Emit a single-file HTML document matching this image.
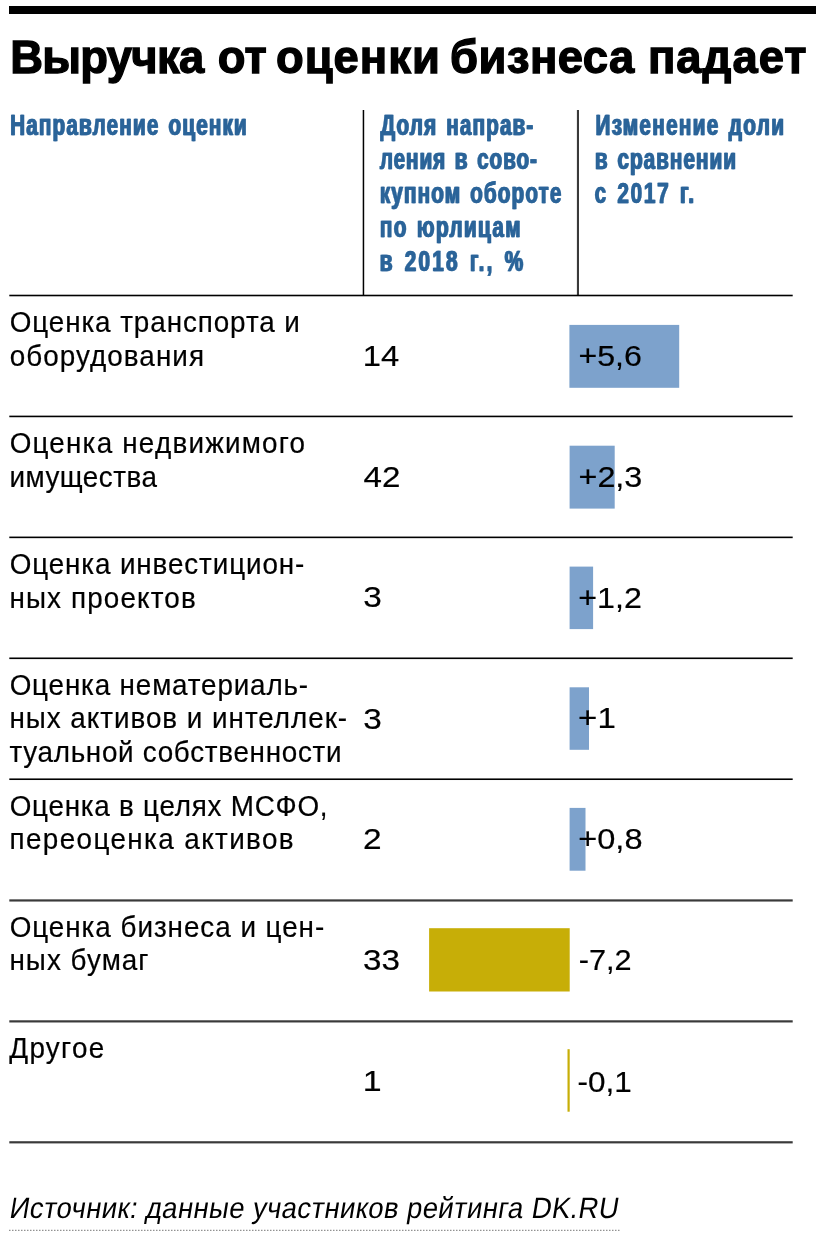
<!DOCTYPE html>
<html><head><meta charset="utf-8"><style>html,body{margin:0;padding:0;background:#fff;overflow:hidden}svg{display:block;will-change:transform}text{font-family:"Liberation Sans",sans-serif;white-space:pre}</style></head><body>
<svg width="816" height="1237" viewBox="0 0 816 1237">
<rect x="9" y="6" width="807" height="8" fill="#000"/>
<rect x="362.7" y="110" width="1.5" height="185.5" fill="#000"/>
<rect x="576.9" y="110" width="2.1" height="185.5" fill="#3a3a3a"/>
<rect x="9.3" y="294.70" width="783.4" height="1.6" fill="#000"/>
<rect x="9.3" y="415.63" width="783.4" height="1.6" fill="#000"/>
<rect x="9.3" y="536.56" width="783.4" height="1.6" fill="#000"/>
<rect x="9.3" y="657.49" width="783.4" height="1.6" fill="#000"/>
<rect x="9.3" y="778.42" width="783.4" height="1.6" fill="#000"/>
<rect x="9.3" y="899.35" width="783.4" height="2.2" fill="#3a3a3a"/>
<rect x="9.3" y="1020.28" width="783.4" height="2.2" fill="#3a3a3a"/>
<rect x="9.3" y="1141.21" width="783.4" height="2.2" fill="#3a3a3a"/>
<rect x="569.4" y="324.9" width="109.80" height="62.90" fill="#7da2cc"/>
<rect x="569.6" y="445.7" width="45.10" height="62.90" fill="#7da2cc"/>
<rect x="569.6" y="566.6" width="23.50" height="62.50" fill="#7da2cc"/>
<rect x="569.6" y="687.3" width="19.40" height="62.50" fill="#7da2cc"/>
<rect x="569.6" y="807.9" width="15.90" height="62.80" fill="#7da2cc"/>
<rect x="429.1" y="928.2" width="140.60" height="63.30" fill="#c7ae07"/>
<rect x="567.5" y="1049.2" width="2.20" height="62.50" fill="#c7ae07"/>
<text id="t0" transform="translate(10.16,72.90) scale(0.97,1)" x="0" y="0" font-size="46.8" font-weight="bold" font-style="normal" fill="#000" stroke="#000" stroke-width="1.3" vector-effect="non-scaling-stroke" textLength="200.16" lengthAdjust="spacing">Выручка</text>
<text id="t1" transform="translate(217.67,72.90) scale(0.97,1)" x="0" y="0" font-size="46.8" font-weight="bold" font-style="normal" fill="#000" stroke="#000" stroke-width="1.3" vector-effect="non-scaling-stroke" textLength="50.51" lengthAdjust="spacing">от</text>
<text id="t2" transform="translate(275.91,72.90) scale(0.97,1)" x="0" y="0" font-size="46.8" font-weight="bold" font-style="normal" fill="#000" stroke="#000" stroke-width="1.3" vector-effect="non-scaling-stroke" textLength="169.04" lengthAdjust="spacing">оценки</text>
<text id="t3" transform="translate(450.12,72.90) scale(0.97,1)" x="0" y="0" font-size="46.8" font-weight="bold" font-style="normal" fill="#000" stroke="#000" stroke-width="1.3" vector-effect="non-scaling-stroke" textLength="189.86" lengthAdjust="spacing">бизнеса</text>
<text id="t4" transform="translate(647.97,72.90) scale(0.97,1)" x="0" y="0" font-size="46.8" font-weight="bold" font-style="normal" fill="#000" stroke="#000" stroke-width="1.3" vector-effect="non-scaling-stroke" textLength="163.48" lengthAdjust="spacing">падает</text>
<text id="h1" transform="translate(9.67,135.40) scale(0.7,1)" x="0" y="0" font-size="29.6" font-weight="bold" font-style="normal" fill="#2b6499" stroke="#2b6499" stroke-width="0.4" vector-effect="non-scaling-stroke" word-spacing="3" textLength="338.07" lengthAdjust="spacing">Направление оценки</text>
<text transform="translate(10.57,135.40) scale(0.7,1)" x="0" y="0" font-size="29.6" font-weight="bold" font-style="normal" fill="#2b6499" stroke="#2b6499" stroke-width="0.4" vector-effect="non-scaling-stroke" word-spacing="3" textLength="338.07" lengthAdjust="spacing">Направление оценки</text>
<text id="h2a" transform="translate(379.93,135.40) scale(0.7,1)" x="0" y="0" font-size="29.6" font-weight="bold" font-style="normal" fill="#2b6499" stroke="#2b6499" stroke-width="0.4" vector-effect="non-scaling-stroke" word-spacing="3" textLength="218.51" lengthAdjust="spacing">Доля направ-</text>
<text transform="translate(380.83,135.40) scale(0.7,1)" x="0" y="0" font-size="29.6" font-weight="bold" font-style="normal" fill="#2b6499" stroke="#2b6499" stroke-width="0.4" vector-effect="non-scaling-stroke" word-spacing="3" textLength="218.51" lengthAdjust="spacing">Доля направ-</text>
<text id="h2b" transform="translate(379.42,169.20) scale(0.7,1)" x="0" y="0" font-size="29.6" font-weight="bold" font-style="normal" fill="#2b6499" stroke="#2b6499" stroke-width="0.4" vector-effect="non-scaling-stroke" word-spacing="3" textLength="224.37" lengthAdjust="spacing">ления в сово-</text>
<text transform="translate(380.32,169.20) scale(0.7,1)" x="0" y="0" font-size="29.6" font-weight="bold" font-style="normal" fill="#2b6499" stroke="#2b6499" stroke-width="0.4" vector-effect="non-scaling-stroke" word-spacing="3" textLength="224.37" lengthAdjust="spacing">ления в сово-</text>
<text id="h2c" transform="translate(379.39,203.00) scale(0.7,1)" x="0" y="0" font-size="29.6" font-weight="bold" font-style="normal" fill="#2b6499" stroke="#2b6499" stroke-width="0.4" vector-effect="non-scaling-stroke" word-spacing="3" textLength="259.35" lengthAdjust="spacing">купном обороте</text>
<text transform="translate(380.29,203.00) scale(0.7,1)" x="0" y="0" font-size="29.6" font-weight="bold" font-style="normal" fill="#2b6499" stroke="#2b6499" stroke-width="0.4" vector-effect="non-scaling-stroke" word-spacing="3" textLength="259.35" lengthAdjust="spacing">купном обороте</text>
<text id="h2d" transform="translate(379.40,236.80) scale(0.7,1)" x="0" y="0" font-size="29.6" font-weight="bold" font-style="normal" fill="#2b6499" stroke="#2b6499" stroke-width="0.4" vector-effect="non-scaling-stroke" word-spacing="3" textLength="201.02" lengthAdjust="spacing">по юрлицам</text>
<text transform="translate(380.30,236.80) scale(0.7,1)" x="0" y="0" font-size="29.6" font-weight="bold" font-style="normal" fill="#2b6499" stroke="#2b6499" stroke-width="0.4" vector-effect="non-scaling-stroke" word-spacing="3" textLength="201.02" lengthAdjust="spacing">по юрлицам</text>
<text id="h2e" transform="translate(379.24,270.60) scale(0.7,1)" x="0" y="0" font-size="29.6" font-weight="bold" font-style="normal" fill="#2b6499" stroke="#2b6499" stroke-width="0.4" vector-effect="non-scaling-stroke" word-spacing="3" textLength="204.95" lengthAdjust="spacing">в 2018 г., %</text>
<text transform="translate(380.14,270.60) scale(0.7,1)" x="0" y="0" font-size="29.6" font-weight="bold" font-style="normal" fill="#2b6499" stroke="#2b6499" stroke-width="0.4" vector-effect="non-scaling-stroke" word-spacing="3" textLength="204.95" lengthAdjust="spacing">в 2018 г., %</text>
<text id="h3a" transform="translate(595.05,135.40) scale(0.7,1)" x="0" y="0" font-size="29.6" font-weight="bold" font-style="normal" fill="#2b6499" stroke="#2b6499" stroke-width="0.4" vector-effect="non-scaling-stroke" word-spacing="3" textLength="269.17" lengthAdjust="spacing">Изменение доли</text>
<text transform="translate(595.95,135.40) scale(0.7,1)" x="0" y="0" font-size="29.6" font-weight="bold" font-style="normal" fill="#2b6499" stroke="#2b6499" stroke-width="0.4" vector-effect="non-scaling-stroke" word-spacing="3" textLength="269.17" lengthAdjust="spacing">Изменение доли</text>
<text id="h3b" transform="translate(594.40,169.20) scale(0.7,1)" x="0" y="0" font-size="29.6" font-weight="bold" font-style="normal" fill="#2b6499" stroke="#2b6499" stroke-width="0.4" vector-effect="non-scaling-stroke" word-spacing="3" textLength="201.56" lengthAdjust="spacing">в сравнении</text>
<text transform="translate(595.30,169.20) scale(0.7,1)" x="0" y="0" font-size="29.6" font-weight="bold" font-style="normal" fill="#2b6499" stroke="#2b6499" stroke-width="0.4" vector-effect="non-scaling-stroke" word-spacing="3" textLength="201.56" lengthAdjust="spacing">в сравнении</text>
<text id="h3c" transform="translate(594.15,203.00) scale(0.7,1)" x="0" y="0" font-size="29.6" font-weight="bold" font-style="normal" fill="#2b6499" stroke="#2b6499" stroke-width="0.4" vector-effect="non-scaling-stroke" word-spacing="3" textLength="141.99" lengthAdjust="spacing">с 2017 г.</text>
<text transform="translate(595.05,203.00) scale(0.7,1)" x="0" y="0" font-size="29.6" font-weight="bold" font-style="normal" fill="#2b6499" stroke="#2b6499" stroke-width="0.4" vector-effect="non-scaling-stroke" word-spacing="3" textLength="141.99" lengthAdjust="spacing">с 2017 г.</text>
<text id="l00" transform="translate(9.63,332.20) scale(0.96,1)" x="0" y="0" font-size="29" font-weight="normal" font-style="normal" fill="#000" stroke="#000" stroke-width="0.2" vector-effect="non-scaling-stroke" textLength="302.34" lengthAdjust="spacing">Оценка транспорта и</text>
<text id="l01" transform="translate(9.66,365.65) scale(0.96,1)" x="0" y="0" font-size="29" font-weight="normal" font-style="normal" fill="#000" stroke="#000" stroke-width="0.2" vector-effect="non-scaling-stroke" textLength="202.41" lengthAdjust="spacing">оборудования</text>
<text id="l10" transform="translate(9.63,453.13) scale(0.96,1)" x="0" y="0" font-size="29" font-weight="normal" font-style="normal" fill="#000" stroke="#000" stroke-width="0.2" vector-effect="non-scaling-stroke" textLength="307.76" lengthAdjust="spacing">Оценка недвижимого</text>
<text id="l11" transform="translate(9.45,486.58) scale(0.96,1)" x="0" y="0" font-size="29" font-weight="normal" font-style="normal" fill="#000" stroke="#000" stroke-width="0.2" vector-effect="non-scaling-stroke" textLength="153.62" lengthAdjust="spacing">имущества</text>
<text id="l20" transform="translate(9.63,574.06) scale(0.96,1)" x="0" y="0" font-size="29" font-weight="normal" font-style="normal" fill="#000" stroke="#000" stroke-width="0.2" vector-effect="non-scaling-stroke" textLength="306.92" lengthAdjust="spacing">Оценка инвестицион-</text>
<text id="l21" transform="translate(9.45,607.51) scale(0.96,1)" x="0" y="0" font-size="29" font-weight="normal" font-style="normal" fill="#000" stroke="#000" stroke-width="0.2" vector-effect="non-scaling-stroke" textLength="194.04" lengthAdjust="spacing">ных проектов</text>
<text id="l30" transform="translate(9.63,694.99) scale(0.96,1)" x="0" y="0" font-size="29" font-weight="normal" font-style="normal" fill="#000" stroke="#000" stroke-width="0.2" vector-effect="non-scaling-stroke" textLength="310.92" lengthAdjust="spacing">Оценка нематериаль-</text>
<text id="l31" transform="translate(9.45,728.44) scale(0.96,1)" x="0" y="0" font-size="29" font-weight="normal" font-style="normal" fill="#000" stroke="#000" stroke-width="0.2" vector-effect="non-scaling-stroke" textLength="351.71" lengthAdjust="spacing">ных активов и интеллек-</text>
<text id="l32" transform="translate(9.46,761.89) scale(0.96,1)" x="0" y="0" font-size="29" font-weight="normal" font-style="normal" fill="#000" stroke="#000" stroke-width="0.2" vector-effect="non-scaling-stroke" textLength="345.90" lengthAdjust="spacing">туальной собственности</text>
<text id="l40" transform="translate(9.63,815.92) scale(0.96,1)" x="0" y="0" font-size="29" font-weight="normal" font-style="normal" fill="#000" stroke="#000" stroke-width="0.2" vector-effect="non-scaling-stroke" textLength="331.19" lengthAdjust="spacing">Оценка в целях МСФО,</text>
<text id="l41" transform="translate(9.45,849.37) scale(0.96,1)" x="0" y="0" font-size="29" font-weight="normal" font-style="normal" fill="#000" stroke="#000" stroke-width="0.2" vector-effect="non-scaling-stroke" textLength="296.03" lengthAdjust="spacing">переоценка активов</text>
<text id="l50" transform="translate(9.63,936.85) scale(0.96,1)" x="0" y="0" font-size="29" font-weight="normal" font-style="normal" fill="#000" stroke="#000" stroke-width="0.2" vector-effect="non-scaling-stroke" textLength="327.69" lengthAdjust="spacing">Оценка бизнеса и цен-</text>
<text id="l51" transform="translate(9.45,970.30) scale(0.96,1)" x="0" y="0" font-size="29" font-weight="normal" font-style="normal" fill="#000" stroke="#000" stroke-width="0.2" vector-effect="non-scaling-stroke" textLength="144.85" lengthAdjust="spacing">ных бумаг</text>
<text id="l60" transform="translate(9.25,1057.78) scale(0.96,1)" x="0" y="0" font-size="29" font-weight="normal" font-style="normal" fill="#000" stroke="#000" stroke-width="0.2" vector-effect="non-scaling-stroke" textLength="98.94" lengthAdjust="spacing">Другое</text>
<text id="n0" x="362.87" y="366.20" font-size="29" font-weight="normal" font-style="normal" fill="#000" stroke="#000" stroke-width="0.2" vector-effect="non-scaling-stroke" textLength="36.40" lengthAdjust="spacingAndGlyphs">14</text>
<text id="n1" x="363.48" y="487.30" font-size="29" font-weight="normal" font-style="normal" fill="#000" stroke="#000" stroke-width="0.2" vector-effect="non-scaling-stroke" textLength="36.86" lengthAdjust="spacingAndGlyphs">42</text>
<text id="n2" x="363.38" y="607.40" font-size="29" font-weight="normal" font-style="normal" fill="#000" stroke="#000" stroke-width="0.2" vector-effect="non-scaling-stroke" textLength="18.53" lengthAdjust="spacingAndGlyphs">3</text>
<text id="n3" x="363.38" y="728.60" font-size="29" font-weight="normal" font-style="normal" fill="#000" stroke="#000" stroke-width="0.2" vector-effect="non-scaling-stroke" textLength="18.53" lengthAdjust="spacingAndGlyphs">3</text>
<text id="n4" x="363.02" y="849.40" font-size="29" font-weight="normal" font-style="normal" fill="#000" stroke="#000" stroke-width="0.2" vector-effect="non-scaling-stroke" textLength="18.62" lengthAdjust="spacingAndGlyphs">2</text>
<text id="n5" x="363.14" y="969.80" font-size="29" font-weight="normal" font-style="normal" fill="#000" stroke="#000" stroke-width="0.2" vector-effect="non-scaling-stroke" textLength="36.89" lengthAdjust="spacingAndGlyphs">33</text>
<text id="n6" x="362.75" y="1090.50" font-size="29" font-weight="normal" font-style="normal" fill="#000" stroke="#000" stroke-width="0.2" vector-effect="non-scaling-stroke" textLength="18.89" lengthAdjust="spacingAndGlyphs">1</text>
<text id="c0" x="578.41" y="366.00" font-size="29" font-weight="normal" font-style="normal" fill="#000" stroke="#000" stroke-width="0.2" vector-effect="non-scaling-stroke" textLength="63.35" lengthAdjust="spacingAndGlyphs">+5,6</text>
<text id="c1" x="578.52" y="487.20" font-size="29" font-weight="normal" font-style="normal" fill="#000" stroke="#000" stroke-width="0.2" vector-effect="non-scaling-stroke" textLength="63.79" lengthAdjust="spacingAndGlyphs">+2,3</text>
<text id="c2" x="578.25" y="607.70" font-size="29" font-weight="normal" font-style="normal" fill="#000" stroke="#000" stroke-width="0.2" vector-effect="non-scaling-stroke" textLength="63.62" lengthAdjust="spacingAndGlyphs">+1,2</text>
<text id="c3" x="578.13" y="728.30" font-size="29" font-weight="normal" font-style="normal" fill="#000" stroke="#000" stroke-width="0.2" vector-effect="non-scaling-stroke" textLength="37.70" lengthAdjust="spacingAndGlyphs">+1</text>
<text id="c4" x="578.25" y="848.90" font-size="29" font-weight="normal" font-style="normal" fill="#000" stroke="#000" stroke-width="0.2" vector-effect="non-scaling-stroke" textLength="64.26" lengthAdjust="spacingAndGlyphs">+0,8</text>
<text id="c5" x="578.76" y="970.30" font-size="29" font-weight="normal" font-style="normal" fill="#000" stroke="#000" stroke-width="0.2" vector-effect="non-scaling-stroke" textLength="52.86" lengthAdjust="spacingAndGlyphs">-7,2</text>
<text id="c6" x="577.52" y="1091.50" font-size="29" font-weight="normal" font-style="normal" fill="#000" stroke="#000" stroke-width="0.2" vector-effect="non-scaling-stroke" textLength="54.20" lengthAdjust="spacingAndGlyphs">-0,1</text>
<text id="src" transform="translate(8.44,1218.30) scale(0.93,1) skewX(-10)" x="0" y="0" font-size="29.5" font-weight="normal" font-style="normal" fill="#000" textLength="654.76" lengthAdjust="spacing">Источник: данные участников рейтинга DK.RU</text>
<line x1="9" y1="1230.3" x2="620" y2="1230.3" stroke="#777" stroke-width="1" stroke-dasharray="1.5 1.5"/>
</svg></body></html>
